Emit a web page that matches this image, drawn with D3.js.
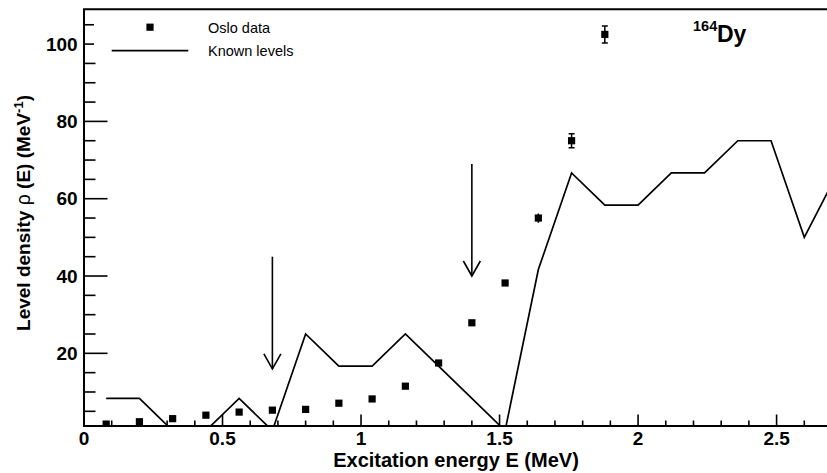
<!DOCTYPE html>
<html>
<head>
<meta charset="utf-8">
<script src="https://cdn.jsdelivr.net/npm/d3@7"></script>
<style>
  html, body { margin: 0; padding: 0; background: #fff; }
  svg { display: block; font-family: "Liberation Sans", Arial, Helvetica, sans-serif; }
</style>
</head>
<body>
<svg id="chart" width="827" height="473"></svg>
<script>
// Oslo-method level density of 164Dy
const osloE   = [0.08, 0.20, 0.32, 0.44, 0.56, 0.68, 0.80, 0.92, 1.04, 1.16, 1.28, 1.40, 1.52, 1.64, 1.76, 1.88];
const osloRho = [1.7, 2.3, 3.1, 4.0, 4.8, 5.3, 5.5, 7.1, 8.2, 11.5, 17.5, 27.9, 38.2, 55.0, 75.0, 102.5];
const osloErr = [0.1, 0.1, 0.1, 0.1, 0.1, 0.1, 0.1, 0.15, 0.2, 0.2, 0.3, 0.4, 0.6, 1.2, 1.8, 2.2];

// Density of known discrete levels (counts per 0.12 MeV bin)
const levelE   = [0.08, 0.20, 0.32, 0.44, 0.56, 0.68, 0.80, 0.92, 1.04, 1.16, 1.28, 1.40, 1.52, 1.64, 1.76, 1.88, 2.00, 2.12, 2.24, 2.36, 2.48, 2.60, 2.72];
const levelRho = [8.33, 8.33, 0, 0, 8.33, 0, 25, 16.67, 16.67, 25, 16.67, 8.33, 0, 41.67, 66.67, 58.33, 58.33, 66.67, 66.67, 75, 75, 50, 66.67];

// Normalisation-region markers
const arrowE    = [0.68, 1.40];
const arrowFrom = [45, 69];
const arrowTo   = [16, 40];

const xMajorTicks = [0, 0.5, 1, 1.5, 2, 2.5];
const xTickLabels = ["0", "0.5", "1", "1.5", "2", "2.5"];
const yMajorTicks = [20, 40, 60, 80, 100];
const yTickLabels = ["20", "40", "60", "80", "100"];

const svg = d3.select("#chart");
const m = { left: 84, right: 832, top: 9.3, bottom: 426 };

const x = d3.scaleLinear().domain([0, 2.7]).range([m.left, m.right]);
const y = d3.scaleLinear().domain([1.2, 109]).range([m.bottom, m.top]);

svg.append("defs").append("clipPath").attr("id", "plotArea")
  .append("rect").attr("x", m.left).attr("y", m.top)
  .attr("width", m.right - m.left).attr("height", m.bottom - m.top);

// tick marks point into the frame
const xMinor = x.ticks(27).filter(v => !xMajorTicks.includes(v));
const yMinor = y.ticks(22).filter(v => !yMajorTicks.includes(v));

const ticks = svg.append("g").attr("stroke", "#000").attr("stroke-width", 1.6);
ticks.selectAll("line.xminor").data(xMinor).join("line").attr("class", "xminor")
  .attr("x1", d => x(d)).attr("x2", d => x(d)).attr("y1", m.bottom).attr("y2", m.bottom - 5.5);
ticks.selectAll("line.xmajor").data(xMajorTicks).join("line").attr("class", "xmajor")
  .attr("x1", d => x(d)).attr("x2", d => x(d)).attr("y1", m.bottom).attr("y2", m.bottom - 11.5);
ticks.selectAll("line.yminor").data(yMinor).join("line").attr("class", "yminor")
  .attr("x1", m.left).attr("x2", m.left + 11.5).attr("y1", d => y(d)).attr("y2", d => y(d));
ticks.selectAll("line.ymajor").data(yMajorTicks).join("line").attr("class", "ymajor")
  .attr("x1", m.left).attr("x2", m.left + 23.5).attr("y1", d => y(d)).attr("y2", d => y(d));

// tick labels
const tl = svg.append("g").attr("font-size", 19).attr("font-weight", "bold").attr("fill", "#000");
tl.selectAll("text.x").data(xMajorTicks).join("text").attr("class", "x")
  .attr("x", d => x(d)).attr("y", 445).attr("text-anchor", "middle")
  .text((d, i) => xTickLabels[i]);
tl.selectAll("text.y").data(yMajorTicks).join("text").attr("class", "y")
  .attr("x", 77.7).attr("y", d => y(d) + 6.7).attr("text-anchor", "end")
  .text((d, i) => yTickLabels[i]);

// frame: left axis, bottom axis, top edge
svg.append("path")
  .attr("d", `M${m.left},${m.bottom}H${m.right}M${m.left},${m.bottom + 1}V${m.top}H${m.right}`)
  .attr("fill", "none").attr("stroke", "#000").attr("stroke-width", 2);

// known levels curve
const plot = svg.append("g").attr("clip-path", "url(#plotArea)");
plot.append("path")
  .datum(levelE.map((e, i) => [e, levelRho[i]]))
  .attr("d", d3.line().x(d => x(d[0])).y(d => y(d[1])))
  .attr("fill", "none").attr("stroke", "#000").attr("stroke-width", 1.7)
  .attr("stroke-linejoin", "miter");

// Oslo data: error bars and square markers
const pts = osloE.map((e, i) => ({ e, r: osloRho[i], s: osloErr[i] }));
const eb = plot.append("g").attr("stroke", "#000").attr("stroke-width", 1.5);
pts.forEach(p => {
  const y0 = y(p.r - p.s), y1 = y(p.r + p.s), cx = x(p.e);
  eb.append("line").attr("x1", cx).attr("x2", cx).attr("y1", y0).attr("y2", y1);
  if (p.s > 1.5) {
    eb.append("line").attr("x1", cx - 3).attr("x2", cx + 3).attr("y1", y0).attr("y2", y0);
    eb.append("line").attr("x1", cx - 3).attr("x2", cx + 3).attr("y1", y1).attr("y2", y1);
  }
});
plot.append("g").selectAll("rect").data(pts).join("rect")
  .attr("x", d => x(d.e) - 3.6).attr("y", d => y(d.r) - 3.6)
  .attr("width", 7.2).attr("height", 7.2).attr("fill", "#000");

// arrows
const ar = svg.append("g").attr("stroke", "#000").attr("stroke-width", 1.6).attr("fill", "none");
arrowE.forEach((e, i) => {
  const cx = x(e), y0 = y(arrowFrom[i]), y1 = y(arrowTo[i]);
  ar.append("line").attr("x1", cx).attr("x2", cx).attr("y1", y0).attr("y2", y1);
  ar.append("path").attr("d", `M${cx - 8.5},${y1 - 15}L${cx},${y1}L${cx + 8.5},${y1 - 15}`);
});

// legend
const lg = svg.append("g");
lg.append("rect").attr("x", 94).attr("y", 12).attr("width", 200).attr("height", 50).attr("fill", "#fff");
lg.append("rect").attr("x", 146.4).attr("y", 23.6).attr("width", 7.2).attr("height", 7.2).attr("fill", "#000");
lg.append("line").attr("x1", 111.7).attr("x2", 188.3).attr("y1", 50.7).attr("y2", 50.7)
  .attr("stroke", "#000").attr("stroke-width", 1.7);
lg.append("text").attr("x", 208).attr("y", 33.3).attr("font-size", 14.5).text("Oslo data");
lg.append("text").attr("x", 208).attr("y", 55.5).attr("font-size", 14.5).text("Known levels");

// nucleus label
const nt = svg.append("text").attr("font-weight", "bold");
nt.append("tspan").attr("x", 693).attr("y", 31).attr("font-size", 14.5).text("164");
nt.append("tspan").attr("x", 717).attr("y", 42).attr("font-size", 23).text("Dy");

// axis titles
svg.append("text").attr("x", 456).attr("y", 467).attr("text-anchor", "middle")
  .attr("font-size", 20).attr("font-weight", "bold").text("Excitation energy E (MeV)");

const yt = svg.append("text").attr("transform", "translate(30,213) rotate(-90)")
  .attr("text-anchor", "middle").attr("font-size", 19).attr("font-weight", "bold");
yt.append("tspan").text("Level density ");
yt.append("tspan").attr("font-weight", "normal").attr("font-size", 19.5).text("ρ");
yt.append("tspan").text(" (E) (MeV");
yt.append("tspan").attr("font-size", 13).attr("dy", "-0.55em").text("-1");
yt.append("tspan").attr("dy", "0.36em").text(")");
</script>
</body>
</html>
